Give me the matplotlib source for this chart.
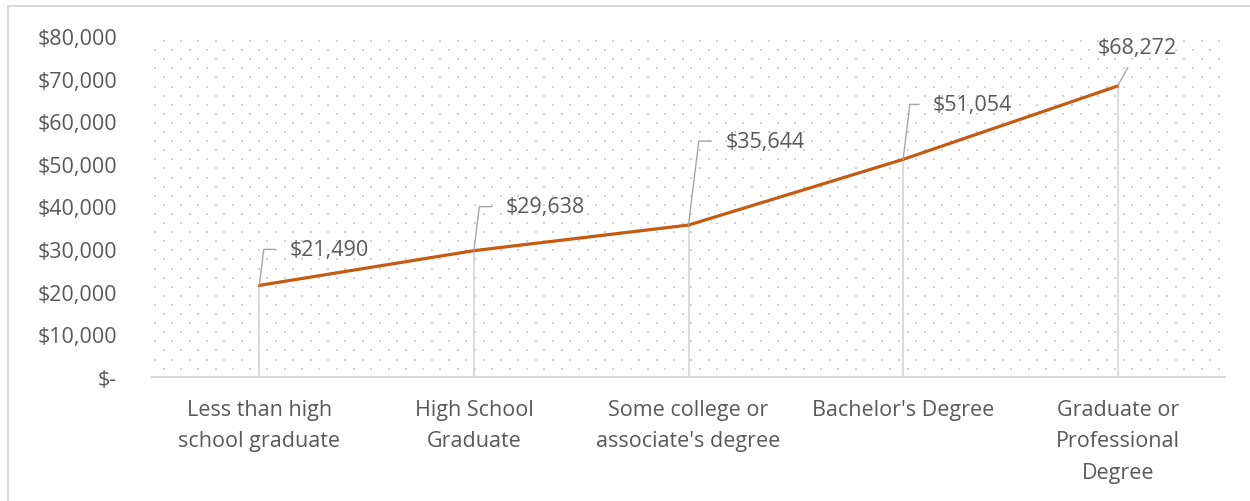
import numpy as np
import matplotlib
matplotlib.use("Agg")
import matplotlib.pyplot as plt
from matplotlib.lines import Line2D

plt.rcParams['font.family'] = ['Open Sans', 'DejaVu Sans']

categories = ["Less than high\nschool graduate", "High School\nGraduate",
              "Some college or\nassociate's degree", "Bachelor's Degree",
              "Graduate or\nProfessional\nDegree"]
earnings = [21490, 29638, 35644, 51054, 68272]
y_ticks = [0, 10000, 20000, 30000, 40000, 50000, 60000, 70000, 80000]

# label placement in pixels relative to the point (text left, text centre)
label_offsets = [(30, 36), (32, 44), (37, 84), (30, 55)]

line_color = '#C55A11'
text_color = '#595959'
fs = 15.5
W, H = 1250, 502
ax_l, ax_r, ax_t, ax_b = 152, 1225, 37, 378

fig = plt.figure(figsize=(W / 100, H / 100), dpi=100)
ax = fig.add_axes([ax_l / W, 1 - ax_b / H, (ax_r - ax_l) / W, (ax_b - ax_t) / H])

# dotted background pattern (staggered grid of light dots)
px, py = [], []
for row, yy in enumerate(np.arange(42, ax_b - 2, 9.1)):
    start = 155 + (8.6 if row % 2 == 0 else 0)
    for xx in np.arange(start, ax_r - 2, 17.3):
        px.append((xx - ax_l) / (ax_r - ax_l))
        py.append((ax_b - yy) / (ax_b - ax_t))
ax.scatter(px, py, s=0.8, marker='s', color='#d2d2d2', linewidths=0,
           transform=ax.transAxes, zorder=0, clip_on=False)

x = np.arange(len(categories))
ax.vlines(x, 0, earnings, color='#d4d4d4', lw=1.2, zorder=1)
ax.plot(x, earnings, color=line_color, lw=2.3, zorder=3, solid_capstyle='round')

ax.set_xlim(-0.5, len(categories) - 0.5)
ax.set_ylim(0, 80000)
ax.set_yticks(y_ticks)
ax.set_yticklabels(['$-' if v == 0 else '${:,.0f}'.format(v) for v in y_ticks])
ax.set_xticks(x)
ax.set_xticklabels(categories, linespacing=1.68)
ax.tick_params(axis='y', length=0, pad=25, labelsize=fs, labelcolor=text_color)
ax.tick_params(axis='x', length=0, pad=15.5, labelsize=fs, labelcolor=text_color)
for side in ['left', 'right', 'top']:
    ax.spines[side].set_visible(False)
ax.spines['bottom'].set_color('#d9d9d9')
ax.spines['bottom'].set_linewidth(1.5)
ax.set_facecolor('white')

for i, (v, (dx, dy)) in enumerate(zip(earnings[:-1], label_offsets)):
    ax.annotate('${:,.0f}'.format(v), xy=(i, v), xytext=(dx, dy),
                textcoords='offset pixels', ha='left', va='center',
                fontsize=fs, color=text_color, zorder=4,
                arrowprops=dict(arrowstyle='-', color='#a6a6a6', lw=1,
                                relpos=(0, 0.5), shrinkA=8, shrinkB=0,
                                connectionstyle='angle,angleA=180,angleB=83,rad=0'))

last = len(earnings) - 1
ax.annotate('${:,.0f}'.format(earnings[last]), xy=(last, earnings[last]),
            xytext=(19, 38), textcoords='offset pixels', ha='center', va='center',
            fontsize=fs, color=text_color, zorder=4,
            arrowprops=dict(arrowstyle='-', color='#a6a6a6', lw=1,
                            relpos=(0.45, 0), shrinkA=5, shrinkB=0))

# chart area border (only left and top edges visible in crop)
fig.add_artist(Line2D([7.5 / W, 7.5 / W], [0, 1 - 7 / H], color='#d9d9d9', lw=1.5))
fig.add_artist(Line2D([7.5 / W, 1], [1 - 7 / H, 1 - 7 / H], color='#d9d9d9', lw=1.5))

fig.savefig('out.png', dpi=100, facecolor='white')
